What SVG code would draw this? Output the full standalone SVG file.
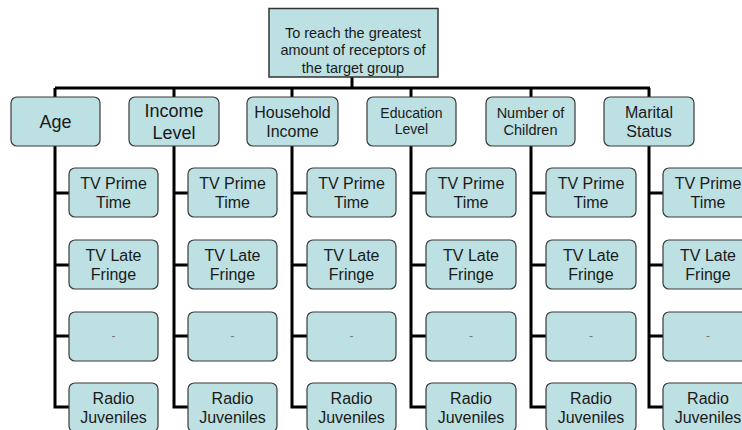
<svg xmlns="http://www.w3.org/2000/svg" width="742" height="430" viewBox="0 0 742 430">
<style>
.box{fill:#bde0e3;stroke:#3a3a3a;stroke-width:1.2}
.t{font-family:"Liberation Sans",Arial,sans-serif;fill:#1a1a1a;text-anchor:middle}
.c{font-size:16px}
.dash{font-size:12px;fill:#777}
.ln{stroke:#000;stroke-width:3;fill:none}
</style>
<rect width="742" height="430" fill="#fff"/>
<g id="connectors">
<path class="ln" d="M352 77V88M55 88H650M55 88V97M174 88V97M292 88V97M411 88V97M531 88V97M649 88V97"/>
<path class="ln" d="M55 146V407H69M55 193H69M55 265H69M55 336H69"/>
<path class="ln" d="M174 146V407H188M174 193H188M174 265H188M174 336H188"/>
<path class="ln" d="M292 146V407H307M292 193H307M292 265H307M292 336H307"/>
<path class="ln" d="M411 146V407H426M411 193H426M411 265H426M411 336H426"/>
<path class="ln" d="M531 146V407H546M531 193H546M531 265H546M531 336H546"/>
<path class="ln" d="M649 146V407H663M649 193H663M649 265H663M649 336H663"/>
</g>
<g id="root">
<rect x="269" y="8.5" width="169" height="68.5" fill="#bde0e3" stroke="#333" stroke-width="1.5"/>
<text class="t" font-size="14.5px"><tspan x="353" y="38">To reach the greatest</tspan><tspan x="353" y="55">amount of receptors of</tspan><tspan x="353" y="73">the target group</tspan></text>
</g>
<g id="cat-age"><rect class="box" x="11" y="97" width="89" height="49" rx="6"/><text class="t" font-size="18px" x="55.5" y="128">Age</text></g>
<g id="cat-income"><rect class="box" x="129" y="97" width="90" height="49" rx="6"/><text class="t" font-size="18px"><tspan x="174" y="117">Income</tspan><tspan x="174" y="139">Level</tspan></text></g>
<g id="cat-household"><rect class="box" x="247" y="97" width="91" height="49" rx="6"/><text class="t" font-size="16px"><tspan x="292.5" y="118">Household</tspan><tspan x="292.5" y="137">Income</tspan></text></g>
<g id="cat-education"><rect class="box" x="367" y="97" width="89" height="49" rx="6"/><text class="t" font-size="14px"><tspan x="411.5" y="118">Education</tspan><tspan x="411.5" y="134">Level</tspan></text></g>
<g id="cat-children"><rect class="box" x="486" y="97" width="89" height="49" rx="6"/><text class="t" font-size="14.5px"><tspan x="530.5" y="118">Number of</tspan><tspan x="530.5" y="135">Children</tspan></text></g>
<g id="cat-marital"><rect class="box" x="604" y="97" width="90" height="49" rx="6"/><text class="t" font-size="16px"><tspan x="649" y="118">Marital</tspan><tspan x="649" y="137">Status</tspan></text></g>

<g id="age-1"><rect class="box" x="69" y="168" width="89" height="49" rx="6"/><text class="t c"><tspan x="113.5" y="189">TV Prime</tspan><tspan x="113.5" y="208">Time</tspan></text></g>
<g id="age-2"><rect class="box" x="69" y="240" width="89" height="49" rx="6"/><text class="t c"><tspan x="113.5" y="261">TV Late</tspan><tspan x="113.5" y="280">Fringe</tspan></text></g>
<g id="age-3"><rect class="box" x="69" y="312" width="89" height="49" rx="6"/><text class="t dash" x="113.5" y="340">-</text></g>
<g id="age-4"><rect class="box" x="69" y="383" width="89" height="49" rx="6"/><text class="t c"><tspan x="113.5" y="404">Radio</tspan><tspan x="113.5" y="423">Juveniles</tspan></text></g>

<g id="inc-1"><rect class="box" x="188" y="168" width="89" height="49" rx="6"/><text class="t c"><tspan x="232.5" y="189">TV Prime</tspan><tspan x="232.5" y="208">Time</tspan></text></g>
<g id="inc-2"><rect class="box" x="188" y="240" width="89" height="49" rx="6"/><text class="t c"><tspan x="232.5" y="261">TV Late</tspan><tspan x="232.5" y="280">Fringe</tspan></text></g>
<g id="inc-3"><rect class="box" x="188" y="312" width="89" height="49" rx="6"/><text class="t dash" x="232.5" y="340">-</text></g>
<g id="inc-4"><rect class="box" x="188" y="383" width="89" height="49" rx="6"/><text class="t c"><tspan x="232.5" y="404">Radio</tspan><tspan x="232.5" y="423">Juveniles</tspan></text></g>

<g id="hh-1"><rect class="box" x="307" y="168" width="89" height="49" rx="6"/><text class="t c"><tspan x="351.5" y="189">TV Prime</tspan><tspan x="351.5" y="208">Time</tspan></text></g>
<g id="hh-2"><rect class="box" x="307" y="240" width="89" height="49" rx="6"/><text class="t c"><tspan x="351.5" y="261">TV Late</tspan><tspan x="351.5" y="280">Fringe</tspan></text></g>
<g id="hh-3"><rect class="box" x="307" y="312" width="89" height="49" rx="6"/><text class="t dash" x="351.5" y="340">-</text></g>
<g id="hh-4"><rect class="box" x="307" y="383" width="89" height="49" rx="6"/><text class="t c"><tspan x="351.5" y="404">Radio</tspan><tspan x="351.5" y="423">Juveniles</tspan></text></g>

<g id="edu-1"><rect class="box" x="426" y="168" width="90" height="49" rx="6"/><text class="t c"><tspan x="471" y="189">TV Prime</tspan><tspan x="471" y="208">Time</tspan></text></g>
<g id="edu-2"><rect class="box" x="426" y="240" width="90" height="49" rx="6"/><text class="t c"><tspan x="471" y="261">TV Late</tspan><tspan x="471" y="280">Fringe</tspan></text></g>
<g id="edu-3"><rect class="box" x="426" y="312" width="90" height="49" rx="6"/><text class="t dash" x="471" y="340">-</text></g>
<g id="edu-4"><rect class="box" x="426" y="383" width="90" height="49" rx="6"/><text class="t c"><tspan x="471" y="404">Radio</tspan><tspan x="471" y="423">Juveniles</tspan></text></g>

<g id="chi-1"><rect class="box" x="546" y="168" width="90" height="49" rx="6"/><text class="t c"><tspan x="591" y="189">TV Prime</tspan><tspan x="591" y="208">Time</tspan></text></g>
<g id="chi-2"><rect class="box" x="546" y="240" width="90" height="49" rx="6"/><text class="t c"><tspan x="591" y="261">TV Late</tspan><tspan x="591" y="280">Fringe</tspan></text></g>
<g id="chi-3"><rect class="box" x="546" y="312" width="90" height="49" rx="6"/><text class="t dash" x="591" y="340">-</text></g>
<g id="chi-4"><rect class="box" x="546" y="383" width="90" height="49" rx="6"/><text class="t c"><tspan x="591" y="404">Radio</tspan><tspan x="591" y="423">Juveniles</tspan></text></g>

<g id="mar-1"><rect class="box" x="663" y="168" width="90" height="49" rx="6"/><text class="t c"><tspan x="708" y="189">TV Prime</tspan><tspan x="708" y="208">Time</tspan></text></g>
<g id="mar-2"><rect class="box" x="663" y="240" width="90" height="49" rx="6"/><text class="t c"><tspan x="708" y="261">TV Late</tspan><tspan x="708" y="280">Fringe</tspan></text></g>
<g id="mar-3"><rect class="box" x="663" y="312" width="90" height="49" rx="6"/><text class="t dash" x="708" y="340">-</text></g>
<g id="mar-4"><rect class="box" x="663" y="383" width="90" height="49" rx="6"/><text class="t c"><tspan x="708" y="404">Radio</tspan><tspan x="708" y="423">Juveniles</tspan></text></g>
</svg>
